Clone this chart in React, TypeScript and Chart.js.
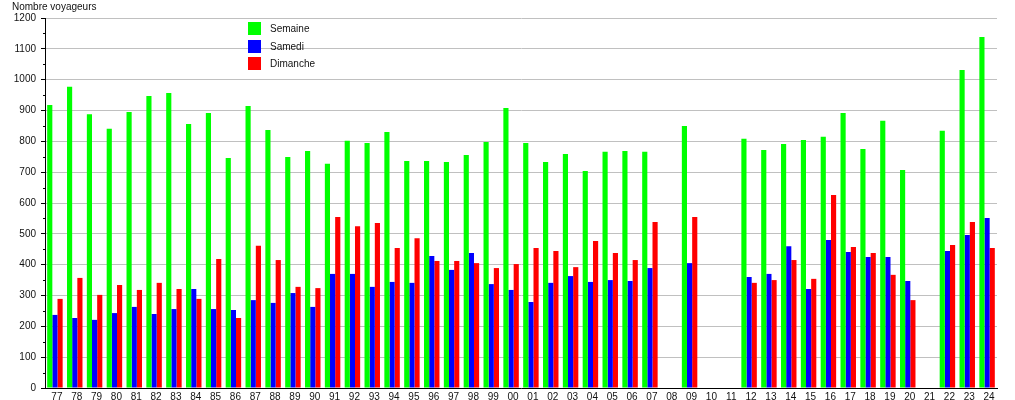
import React, { useEffect, useRef } from "react";
import { Chart, registerables } from "chart.js";

Chart.register(...registerables);

const categories = [
  "77","78","79","80","81","82","83","84","85","86","87","88","89","90","91","92","93","94","95","96","97","98","99",
  "00","01","02","03","04","05","06","07","08","09","10","11","12","13","14","15","16","17","18","19","20","21","22","23","24",
];

const semaine = [
  918, 977, 888, 841, 895, 947, 957, 856, 892, 746, 915, 837, 749, 769, 727, 802, 795, 830, 736, 736, 733, 756, 798,
  908, 795, 733, 759, 704, 766, 769, 766, null, 850, null, null, 808, 772, 791, 804, 815, 892, 775, 867, 707, null, 834, 1031, 1138,
];

const samedi = [
  237, 227, 221, 243, 263, 240, 256, 321, 256, 253, 285, 276, 308, 263, 370, 370, 328, 344, 341, 428, 383, 438, 337,
  318, 279, 341, 363, 344, 350, 347, 389, null, 405, null, null, 360, 370, 460, 321, 480, 441, 425, 425, 347, null, 444, 496, 551,
];

const dimanche = [
  289, 357, 302, 334, 318, 341, 321, 289, 418, 227, 461, 415, 328, 324, 555, 525, 535, 454, 486, 412, 412, 405, 389,
  402, 454, 444, 392, 477, 438, 415, 538, null, 555, null, null, 341, 350, 415, 354, 626, 457, 438, 367, 285, null, 464, 538, 454,
];

const seriesNames = ["Semaine", "Samedi", "Dimanche"];
const seriesColors = ["#00ff00", "#0000ff", "#ff0000"];

const yTicks = { min: 0, max: 1200, step: 100 };
const axisTitle = "Nombre voyageurs";

const FONT = "'Liberation Sans', Arial, sans-serif";

export default function App() {
  const ref = useRef<HTMLCanvasElement | null>(null);

  useEffect(() => {
    if (!ref.current) return;

    const extras = {
      id: "extras",
      afterDraw(chart: any) {
        const ctx = chart.ctx;
        const ys = chart.scales.y;
        const left = chart.chartArea.left;
        ctx.save();
        // minor ticks
        ctx.strokeStyle = "#000";
        ctx.lineWidth = 1;
        for (let v = yTicks.min + yTicks.step / 2; v < yTicks.max; v += yTicks.step) {
          const y = Math.round(ys.getPixelForValue(v)) + 0.5;
          ctx.beginPath();
          ctx.moveTo(left - 2, y);
          ctx.lineTo(left, y);
          ctx.stroke();
        }
        // axis title
        ctx.fillStyle = "#111";
        ctx.font = `10px ${FONT}`;
        ctx.textAlign = "left";
        ctx.textBaseline = "middle";
        ctx.fillText(axisTitle, 12, 7);
        // legend
        const dsets = chart.data.datasets;
        for (let i = 0; i < dsets.length; i++) {
          const by = 22 + i * 17.5;
          ctx.fillStyle = dsets[i].backgroundColor;
          ctx.fillRect(248, Math.round(by), 13, 13);
          ctx.fillStyle = "#111";
          ctx.fillText(dsets[i].label, 270, Math.round(by) + 7);
        }
        ctx.restore();
      },
    };

    const chart = new Chart(ref.current, {
      type: "bar",
      data: {
        labels: categories,
        datasets: [
          { label: seriesNames[0], data: semaine, backgroundColor: seriesColors[0] },
          { label: seriesNames[1], data: samedi, backgroundColor: seriesColors[1] },
          { label: seriesNames[2], data: dimanche, backgroundColor: seriesColors[2] },
        ],
      },
      options: {
        responsive: false,
        animation: false,
        devicePixelRatio: 1,
        layout: { padding: { left: 0, top: 18, right: 18, bottom: 0 } },
        datasets: {
          bar: { barPercentage: 1, categoryPercentage: 0.78, borderWidth: 0 },
        },
        plugins: {
          legend: { display: false },
          tooltip: { enabled: false },
          title: { display: false },
        },
        scales: {
          x: {
            grid: { display: false, drawTicks: false },
            border: { display: true, color: "#000", width: 1 },
            ticks: {
              color: "#111",
              font: { family: FONT, size: 10 },
              padding: 3,
              labelOffset: 2,
              autoSkip: false,
              maxRotation: 0,
            },
            afterFit(scale: any) {
              scale.height = 12;
            },
          },
          y: {
            min: yTicks.min,
            max: yTicks.max,
            grid: {
              color: "#c0c0c0",
              tickColor: "#000",
              tickLength: 4,
              drawTicks: true,
            },
            border: { display: true, color: "#000", width: 1 },
            ticks: {
              stepSize: yTicks.step,
              color: "#111",
              font: { family: FONT, size: 10 },
              padding: 5,
              callback: (v: any) => String(v),
            },
            afterFit(scale: any) {
              scale.width = 45;
            },
          },
        },
      },
      plugins: [extras],
    });

    return () => chart.destroy();
  }, []);

  return (
    <div style={{ position: "absolute", left: 0, top: 0, width: 1015, height: 400, background: "#fff" }}>
      <canvas ref={ref} width={1015} height={400} style={{ display: "block", width: 1015, height: 400 }} />
    </div>
  );
}
